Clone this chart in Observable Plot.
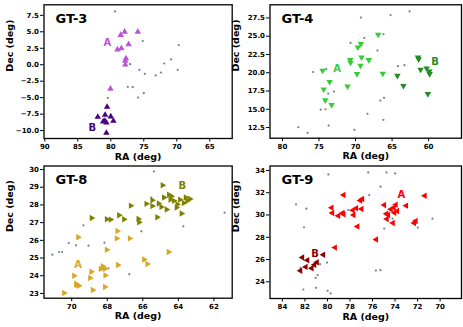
<!DOCTYPE html>
<html><head><meta charset="utf-8">
<script src="https://cdn.jsdelivr.net/npm/d3@7"></script>
<script src="https://cdn.jsdelivr.net/npm/@observablehq/plot@0.6"></script>
<style>
html,body{margin:0;padding:0;background:#fff;}
#wrap{position:relative;width:463px;height:327px;overflow:hidden;background:#fff;}
.panel{position:absolute;}
.panel svg{background:transparent !important;overflow:visible;}
</style></head><body><div id="wrap"></div>
<script>
// ---------- GT-3 (RA, Dec) ----------
const gt3A = [[75.9,5.0],[77.9,5.0],[78.5,4.5],[77.3,3.1],[78.4,2.5],[79.0,2.3],[77.7,0.95],[77.8,0.6],[77.8,0.0],[80.05,-3.66]];
const gt3B = [[80.56,-6.4],[81.97,-7.92],[80.86,-7.62],[80.0,-7.87],[79.6,-8.53],[81.16,-8.63],[80.91,-8.53],[80.66,-8.79],[80.66,-10.36]];
const gt3F = [[79.34,8.1],[75.15,3.6],[69.7,2.98],[70.86,0.8],[71.9,0.19],[77.07,0.09],[75.66,-0.77],[74.85,-1.38],[72.4,-1.18],[73.2,-1.63],[69.85,-0.77],[77.42,-3.36],[76.67,-3.4],[75.0,-4.32],[75.86,-4.98],[80.45,-5.03]];
const gt3Labels = [["A",80.5,3.4],["B",82.8,-9.5]];
const gt3XTicks = [90,85,80,75,70,65];
const gt3YTicks = [7.5,5,2.5,0,-2.5,-5,-7.5,-10];

// ---------- GT-4 ----------
const gt4A = [[74.5,20.3],[74.36,17.74],[74.14,16.24],[73.55,18.75],[73.27,15.6],[71.09,18.15],[70.73,21.75],[70.68,21.4],[69.8,19.84],[69.68,23.49],[69.27,23.94],[69.32,20.98],[69.18,22.12],[68.18,21.75],[66.9,25.22],[66.27,19.88]];
const gt4B = [[64.27,19.6],[63.45,18.2],[61.45,22.12],[61.36,21.85],[61.1,20.43],[60.27,20.6],[59.9,20.2],[59.86,19.84],[60.1,17.1]];
const gt4F = [[62.6,28.4],[65.2,27.9],[69.27,27.55],[66.18,25.27],[68.8,24.76],[70.68,24.08],[67.0,23.03],[75.8,20.1],[74.0,20.5],[64.2,20.9],[63.3,21.03],[72.95,17.42],[73.73,17.15],[74.77,14.96],[74.1,15.0],[68.36,14.37],[66.1,16.56],[66.6,16.19],[66.18,13.55],[73.68,12.77],[77.82,12.54],[76.55,11.77],[70.14,12.18]];
const gt4Labels = [["A",72.5,20.5],["B",59.1,21.5]];
const gt4XTicks = [80,75,70,65,60];
const gt4YTicks = [12.5,15,17.5,20,22.5,25,27.5];

// ---------- GT-8 ----------
const gt8A = [[70.43,23.02],[69.87,24.0],[69.64,26.17],[69.76,23.55],[69.72,23.47],[69.6,23.43],[68.97,23.87],[68.9,24.23],[68.82,23.19],[68.37,24.38],[68.26,24.53],[68.13,24.4],[68.11,24.02],[68.13,23.36],[68.03,25.47],[67.43,26.53],[67.47,26.11],[67.4,24.6],[66.74,26.11],[65.93,24.92],[65.75,24.66],[64.55,25.34]];
const gt8B = [[68.88,27.26],[68.03,27.19],[67.81,27.17],[67.34,27.42],[67.06,27.19],[66.68,27.96],[66.25,27.2],[66.21,27.02],[65.8,28.06],[65.47,27.94],[65.47,28.26],[65.19,27.3],[65.11,28.08],[64.89,29.11],[64.81,28.42],[64.96,27.89],[64.66,27.74],[64.53,28.57],[64.45,28.3],[64.4,28.49],[64.25,28.23],[64.06,28.04],[64.1,27.85],[63.91,28.3],[63.82,27.51],[63.7,28.11],[63.59,28.42],[63.5,28.23],[63.35,28.34]];
const gt8F = [[65.37,29.89],[65.52,28.42],[61.4,27.57],[63.72,26.79],[69.34,26.85],[66.08,26.51],[70.17,25.85],[69.76,25.72],[69.06,25.7],[68.16,25.87],[70.71,25.34],[70.54,25.34],[71.09,25.19],[67.94,24.42],[66.76,24.09]];
const gt8Labels = [["A",69.64,24.6],["B",63.78,29.06]];
const gt8XTicks = [70,68,66,64,62];
const gt8YTicks = [23,24,25,26,27,28,29,30];

// ---------- GT-9 ----------
const gt9A = [[78.57,31.79],[79.63,30.66],[79.57,30.18],[79.04,29.94],[78.65,30.18],[78.57,30.06],[77.74,30.42],[77.68,30.0],[77.44,30.6],[77.33,28.96],[77.09,31.31],[76.97,30.54],[76.91,31.43],[75.67,27.79],[74.96,30.9],[74.76,30.12],[74.73,29.64],[74.6,30.0],[74.37,30.51],[74.19,29.28],[74.1,30.66],[73.93,30.93],[73.81,30.36],[74.05,30.2],[73.01,30.84],[72.3,29.28],[72.16,29.46],[71.36,31.73],[79.33,27.07]];
const gt9B = [[82.23,26.18],[81.78,25.94],[82.4,24.99],[81.93,25.34],[81.4,25.22],[81.16,25.52],[80.93,25.76],[80.37,26.42]];
const gt9F = [[82.79,30.96],[81.87,30.57],[82.08,28.9],[79.92,33.64],[76.38,33.82],[74.76,33.82],[73.99,33.73],[75.29,32.54],[76.29,31.79],[78.15,30.45],[74.22,29.67],[74.96,28.78],[71.98,28.87],[70.68,29.67],[80.04,25.73],[80.66,25.58],[82.4,25.25],[80.87,24.6],[81.05,24.36],[75.7,25.01],[75.29,25.04],[82.14,23.31],[81.02,23.46],[79.98,23.19],[79.72,22.96]];
const gt9Labels = [["A",73.43,31.85],["B",81.1,26.54]];
const gt9XTicks = [84,82,80,78,76,74,72,70];
const gt9YTicks = [24,26,28,30,32,34];

const FIELD_COLOR = "#6f7f96";

function panel(cfg) {
  const {title, A, B, F, labels, colA, colB, rot, xDom, yDom, xTicks, yTicks, yFmt,
         left, top, width, height, m} = cfg;
  const plot = Plot.plot({
    width, height,
    marginLeft: m[3], marginRight: m[1], marginTop: m[0], marginBottom: m[2],
    style: {fontFamily: "DejaVu Sans", fontWeight: "bold", background: "transparent", color: "black"},
    x: {domain: xDom},
    y: {domain: yDom},
    marks: [
      Plot.axisX({ticks: xTicks, tickFormat: d3.format("d"), tickSize: 3.5, tickPadding: 2, fontSize: 7, label: null}),
      Plot.axisY({ticks: yTicks, tickFormat: yFmt, tickSize: 3.5, tickPadding: 1.5, fontSize: 7, label: null}),
      Plot.dot(F, {x: d => d[0], y: d => d[1], r: 1.1, fill: FIELD_COLOR, stroke: null}),
      Plot.dot(A, {x: d => d[0], y: d => d[1], symbol: "triangle", r: 2.4, fill: colA, rotate: rot}),
      Plot.dot(B, {x: d => d[0], y: d => d[1], symbol: "triangle", r: 2.4, fill: colB, rotate: rot}),
      Plot.text(labels, {x: d => d[1], y: d => d[2], text: d => d[0], fill: (d, i) => i === 0 ? colA : colB, fontSize: 10, fontWeight: "bold"}),
      Plot.text([title], {text: d => d, frameAnchor: "top-left", dx: 11.5, dy: 9, fontSize: 13, fontWeight: "bold", lineAnchor: "top", textAnchor: "start", fill: "black"}),
      Plot.text(["RA (deg)"], {text: d => d, frameAnchor: "bottom", dy: 18, fontSize: 9.5, fontWeight: "bold", lineAnchor: "middle", fill: "black"}),
      Plot.text(["Dec (deg)"], {text: d => d, frameAnchor: "left", dx: -(m[3] - 9.5), rotate: -90, fontSize: 9.5, fontWeight: "bold", lineAnchor: "middle", fill: "black"}),
      Plot.frame({stroke: "black", strokeWidth: 1.3})
    ]
  });
  const div = document.createElement("div");
  div.className = "panel";
  div.style.left = left + "px";
  div.style.top = top + "px";
  div.appendChild(plot);
  document.getElementById("wrap").appendChild(div);
}

const f1 = d3.format(".1f");
const fd = d3.format("d");

panel({title: "GT-3", A: gt3A, B: gt3B, F: gt3F, labels: gt3Labels, colA: "#ba55d3", colB: "#4b0082", rot: 0,
  xDom: [90.12, 61.6], yDom: [-11.2, 9.1], xTicks: gt3XTicks, yTicks: gt3YTicks, yFmt: f1,
  left: 0, top: 0, width: 233, height: 163, m: [4.3, 1.3, 25, 43.5]});
panel({title: "GT-4", A: gt4A, B: gt4B, F: gt4F, labels: gt4Labels, colA: "#32cd32", colB: "#228b22", rot: 180,
  xDom: [81.7, 55.5], yDom: [11.04, 29.3], xTicks: gt4XTicks, yTicks: gt4YTicks, yFmt: f1,
  left: 226, top: 0, width: 237, height: 163, m: [4.3, 2, 25.3, 43.5]});
panel({title: "GT-8", A: gt8A, B: gt8B, F: gt8F, labels: gt8Labels, colA: "#daa520", colB: "#808000", rot: 90,
  xDom: [71.56, 60.97], yDom: [22.73, 30.2], xTicks: gt8XTicks, yTicks: gt8YTicks, yFmt: fd,
  left: 0, top: 160, width: 233, height: 167, m: [5.5, 1.3, 29.3, 43.5]});
panel({title: "GT-9", A: gt9A, B: gt9B, F: gt9F, labels: gt9Labels, colA: "#ff0000", colB: "#8b0000", rot: -90,
  xDom: [85.1, 68.1], yDom: [22.5, 34.4], xTicks: gt9XTicks, yTicks: gt9YTicks, yFmt: fd,
  left: 226, top: 160, width: 237, height: 167, m: [5.5, 2, 29, 43.5]});
</script></body></html>
